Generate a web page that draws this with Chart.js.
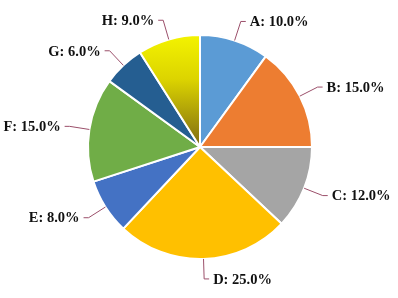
<!DOCTYPE html>
<html>
<head>
<meta charset="utf-8">
<script src="https://cdn.jsdelivr.net/npm/chart.js@4"></script>
<style>
    html, body { margin: 0; padding: 0; background: #ffffff; }
    #pieChart { display: block; }
</style>
</head>
<body>
<canvas id="pieChart" width="398" height="298"></canvas>
<script>
const categories = ['A', 'B', 'C', 'D', 'E', 'F', 'G', 'H'];
const shares = [10, 15, 12, 25, 8, 15, 6, 9];
const sliceColors = ['#5B9BD5', '#ED7D31', '#A5A5A5', '#FFC000', '#4472C4', '#70AD47', '#255E91', null];

// leader lines + "X: 10.0%" labels outside the pie
const outsideLabels = {
    id: 'outsideLabels',
    afterDatasetsDraw(chart) {
        const ctx = chart.ctx;
        const meta = chart.getDatasetMeta(0);
        ctx.save();
        ctx.font = "bold 14.5px 'Liberation Serif', 'Times New Roman', serif";
        ctx.textBaseline = 'middle';
        meta.data.forEach(function (arc, i) {
            const p = arc.getProps(['x', 'y', 'startAngle', 'endAngle', 'outerRadius'], true);
            const mid = (p.startAngle + p.endAngle) / 2;
            const dx = Math.cos(mid), dy = Math.sin(mid);
            const x0 = p.x + dx * p.outerRadius, y0 = p.y + dy * p.outerRadius;
            const x1 = x0 + dx * 20, y1 = y0 + dy * 20;
            const side = dx >= 0 ? 1 : -1;
            const x2 = x1 + side * 5;

            ctx.strokeStyle = '#9B4F6A';
            ctx.lineWidth = 1;
            ctx.beginPath();
            ctx.moveTo(x0, y0);
            ctx.lineTo(x1, y1);
            ctx.lineTo(x2, y1);
            ctx.stroke();

            ctx.fillStyle = '#111111';
            ctx.textAlign = side > 0 ? 'left' : 'right';
            ctx.fillText(categories[i] + ': ' + shares[i].toFixed(1) + '%', x2 + side * 4, y1 + 1);
        });
        ctx.restore();
    }
};

function sliceColor(context) {
    const c = sliceColors[context.dataIndex];
    if (c) return c;
    const area = context.chart.chartArea;
    if (!area) return '#E0D000';
    const cy = (area.top + area.bottom) / 2;
    const g = context.chart.ctx.createLinearGradient(0, area.top, 0, cy);
    g.addColorStop(0, '#F4F400');
    g.addColorStop(0.4, '#DCD400');
    g.addColorStop(1, '#7E6A12');
    return g;
}

new Chart(document.getElementById('pieChart').getContext('2d'), {
    type: 'pie',
    data: {
        labels: categories,
        datasets: [{
            data: shares,
            backgroundColor: sliceColor,
            borderColor: '#ffffff',
            borderWidth: 2,
            hoverOffset: 0
        }]
    },
    options: {
        responsive: false,
        animation: false,
        layout: {
            padding: { left: 60, right: 58, top: 34, bottom: 38 }
        },
        plugins: {
            legend: { display: false },
            tooltip: { enabled: false }
        }
    },
    plugins: [outsideLabels]
});
</script>
</body>
</html>
